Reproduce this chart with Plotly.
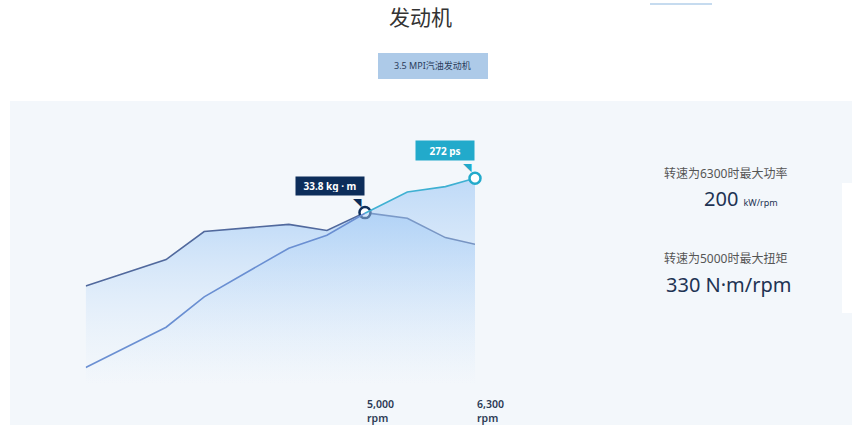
import plotly.graph_objects as go

W, H = 852, 425

rpm = [1700, 2650, 3100, 4100, 4550, 5000, 5500, 5950, 6300]
torque_kgm = [19.4, 24.6, 30.1, 31.5, 30.3, 33.8, 32.7, 28.9, 27.6]
power_ps = [23, 76, 116, 180, 197, 226, 254, 261, 272]

peak_torque_rpm, peak_torque = 5000, 33.8
peak_power_rpm, peak_power = 6300, 272
tick_rpm = [5000, 6300]
tick_text = ["5,000", "6,300"]
tick_unit = "rpm"

FONT = "Noto Sans, Noto Sans CJK SC, sans-serif"
NAVY = "#0c2d5a"
TEAL = "#22aacb"


def px(x):
    return x / W


def py(y):
    return (H - y) / H


fig = go.Figure()

grad = [[0, "rgba(215,232,250,0)"], [1, "rgba(155,198,245,0.6)"]]
fig.add_trace(go.Scatter(x=rpm, y=torque_kgm, yaxis="y", mode="lines",
                         line=dict(width=0), fill="tozeroy",
                         fillgradient=dict(type="vertical", colorscale=grad)))
fig.add_trace(go.Scatter(x=rpm, y=power_ps, yaxis="y2", mode="lines",
                         line=dict(width=0), fill="tozeroy",
                         fillgradient=dict(type="vertical", colorscale=grad)))

# lines
fig.add_trace(go.Scatter(x=rpm, y=torque_kgm, yaxis="y", mode="lines",
                         line=dict(color="#51699d", width=1.6)))
lo = [i for i, r in enumerate(rpm) if r <= peak_torque_rpm]
hi = [i for i, r in enumerate(rpm) if r >= peak_torque_rpm]
fig.add_trace(go.Scatter(x=[rpm[i] for i in lo], y=[power_ps[i] for i in lo],
                         yaxis="y2", mode="lines",
                         line=dict(color="#6a8fd2", width=1.6)))
fig.add_trace(go.Scatter(x=[rpm[i] for i in hi], y=[power_ps[i] for i in hi],
                         yaxis="y2", mode="lines",
                         line=dict(color="#3fb0d2", width=1.6)))

# peak markers
fig.add_trace(go.Scatter(x=[peak_torque_rpm], y=[peak_torque], yaxis="y", mode="markers",
                         marker=dict(size=11, color="white", line=dict(color=NAVY, width=2.5)),
                         cliponaxis=False))
fig.add_trace(go.Scatter(x=[peak_power_rpm], y=[peak_power], yaxis="y2", mode="markers",
                         marker=dict(size=11, color="white", line=dict(color=TEAL, width=2.5)),
                         cliponaxis=False))

shapes = [
    dict(type="rect", xref="paper", yref="paper", x0=px(10), x1=1, y0=0, y1=py(101),
         fillcolor="#f3f7fb", line_width=0, layer="below"),
    dict(type="rect", xref="paper", yref="paper", x0=px(842), x1=1, y0=py(313), y1=py(183),
         fillcolor="white", line_width=0, layer="below"),
    dict(type="rect", xref="paper", yref="paper", x0=px(378), x1=px(488), y0=py(79), y1=py(53),
         fillcolor="#adcae8", line_width=0),
    dict(type="line", xref="paper", yref="paper", x0=px(650), x1=px(712), y0=py(4), y1=py(4),
         line=dict(color="#c6dbef", width=2)),
]

annotations = [
    dict(text="发动机", x=px(420), y=py(17), font=dict(size=21, color="#333333")),
    dict(text="3.5 MPI汽油发动机", x=px(433), y=py(66), font=dict(size=9, color="#2b3d5c")),
    dict(text="转速为6300时最大功率", x=px(725), y=py(173), font=dict(size=12, color="#555555")),
    dict(text="200 <span style='font-size:9px'>kW/rpm</span>", x=px(741), y=py(198),
         font=dict(size=20, color="#1e3353")),
    dict(text="转速为5000时最大扭矩", x=px(725), y=py(258), font=dict(size=12, color="#555555")),
    dict(text="330 N·m/rpm", x=px(728), y=py(284), font=dict(size=20, color="#1e3353")),
]
for a in annotations:
    a.update(xref="paper", yref="paper", showarrow=False, xanchor="center", yanchor="middle")

# x tick labels, left-aligned at the tick
for r, t in zip(tick_rpm, tick_text):
    annotations.append(dict(text="%s<br>%s" % (t, tick_unit), x=r, xref="x", y=py(410.5),
                            yref="paper", showarrow=False, xanchor="left", yanchor="middle",
                            align="left",
                            font=dict(size=10.5, color="#2b3a55", weight=600)))

# value callouts: box above-left of the marker with a small pointer
callouts = [
    ("%s kg · m" % peak_torque, peak_torque_rpm, peak_torque, "y", NAVY, 62, 12),
    ("%d ps" % peak_power, peak_power_rpm, peak_power, "y2", TEAL, 52, 13),
]
for txt, cx, cy, yref, col, w, h in callouts:
    annotations.append(dict(text="<b>%s</b>" % txt, x=cx, y=cy, xref="x", yref=yref,
                            xanchor="right", yanchor="bottom", showarrow=False,
                            yshift=17, bgcolor=col, borderpad=3, width=w, height=h,
                            font=dict(size=10, color="white")))
    annotations.append(dict(text="◥", x=cx, y=cy, xref="x", yref=yref,
                            xanchor="right", yanchor="top", showarrow=False,
                            xshift=-1, yshift=19,
                            font=dict(family="DejaVu Sans", size=11, color=col)))

fig.update_layout(
    width=W, height=H,
    margin=dict(l=0, r=0, t=0, b=0),
    paper_bgcolor="white", plot_bgcolor="rgba(0,0,0,0)",
    font=dict(family=FONT),
    showlegend=False,
    hovermode=False,
    xaxis=dict(domain=[px(85.7), px(475)], range=[1700, 6300], visible=False),
    yaxis=dict(domain=[py(385), py(130)], range=[0, 50], visible=False),
    yaxis2=dict(overlaying="y", range=[0, 335.5], visible=False),
    shapes=shapes,
    annotations=annotations,
)

# page has a default 8px body margin; drop it so the figure fills the window
fig.write_html("out.html", config={"displayModeBar": False},
               post_script="document.body.style.margin='0';")
